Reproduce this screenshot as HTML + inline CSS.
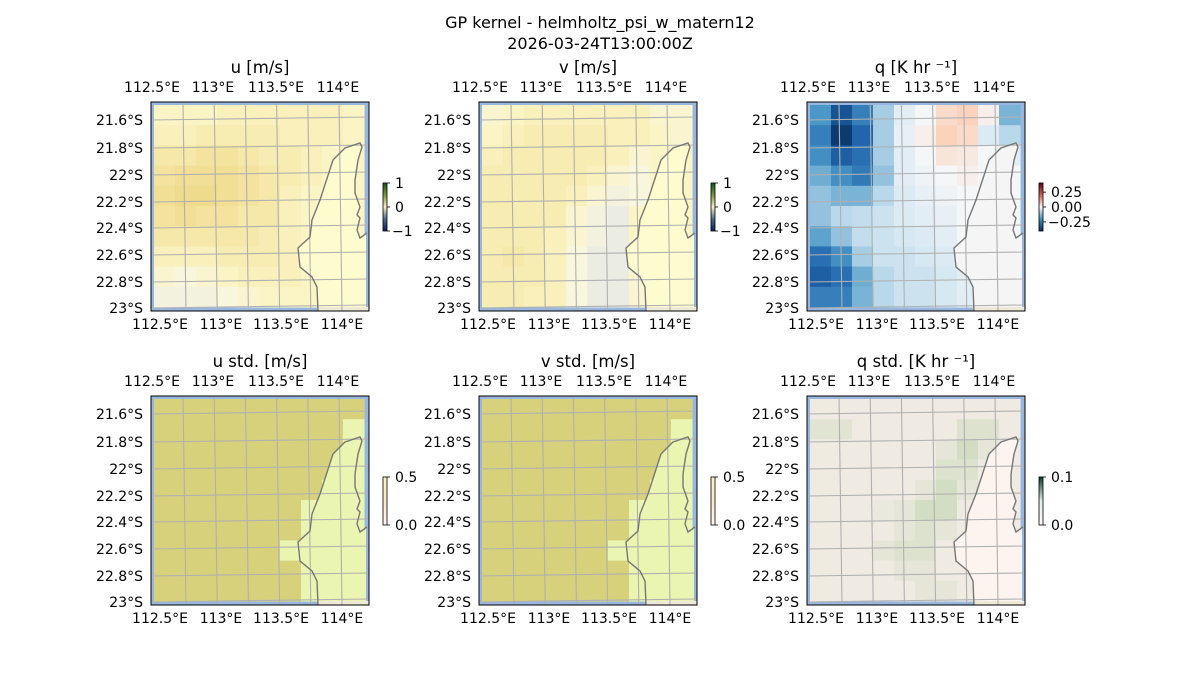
<!DOCTYPE html>
<html><head><meta charset="utf-8"><style>
body{margin:0;background:#fff;}
svg{display:block;font-family:"DejaVu Sans","Liberation Sans",sans-serif;}
</style></head><body>
<svg id="fig" width="1200" height="700" viewBox="0 0 1200 700">
<text x="600" y="28" font-size="16" text-anchor="middle">GP kernel - helmholtz_psi_w_matern12</text>
<text x="600" y="49" font-size="16" text-anchor="middle">2026-03-24T13:00:00Z</text>
</svg>
<script>
const uGrid=[
[.2,.2,.2,.3,.3,.3,.3,.3,.3,.2],[.3,.3,.4,.4,.4,.4,.3,.3,.3,.2],[.5,.5,.6,.6,.5,.4,.4,.3,.2,.2],
[.6,.7,.7,.7,.6,.5,.4,.3,.2,.2],[.7,.8,.8,.7,.6,.5,.3,.2,.2,.2],[.6,.7,.6,.6,.5,.5,.3,.2,.2,.2],
[.5,.5,.5,.5,.5,.4,.3,.2,.2,.2],[.3,.3,.3,.4,.4,.4,.3,.2,.2,.2],[.1,0,.1,.2,.3,.3,.3,.2,.2,.2],
[-.1,-.1,-.1,0,.1,.2,.2,.2,.2,.2]];
const vGrid=[
[.1,.2,.3,.3,.3,.3,.3,.3,.1,.1],[.2,.3,.4,.4,.4,.4,.3,.3,.2,.1],[.3,.4,.4,.4,.4,.4,.3,.1,.2,.2],
[.4,.4,.4,.4,.4,.3,.1,0,.2,.2],[.4,.4,.4,.4,.3,.1,-.1,0,.2,.2],[.4,.4,.4,.4,.1,-.1,-.2,.2,.2,.2],
[.4,.4,.4,.3,.1,-.1,-.2,.2,.2,.2],[.4,.5,.4,.3,0,-.2,-.2,.2,.2,.2],[.4,.4,.4,.3,0,-.2,-.2,.1,.2,.2],
[.4,.4,.3,.3,0,-.2,-.2,.1,.2,.2]];
const qGrid=[
[-.2,-.35,-.25,-.1,-.03,0,.08,.1,.02,-.15],[-.25,-.42,-.3,-.1,-.02,.02,.1,.08,-.04,-.08],
[-.22,-.32,-.28,-.1,-.03,0,.05,.04,0,-.03],[-.16,-.22,-.26,-.12,-.03,-.01,0,.02,0,0],
[-.12,-.15,-.15,-.08,-.04,-.02,-.01,0,0,0],[-.12,-.08,-.07,-.06,-.04,-.03,-.02,0,0,0],
[-.18,-.12,-.07,-.06,-.05,-.04,-.03,0,0,0],[-.28,-.22,-.1,-.06,-.06,-.05,-.04,0,0,0],
[-.32,-.28,-.16,-.08,-.06,-.06,-.05,-.03,0,0],[-.25,-.25,-.15,-.08,-.06,-.06,-.05,-.03,0,0]];
const uStdGrid=[
[.3,.3,.3,.3,.3,.3,.3,.3,.3,.3],[.3,.3,.3,.3,.3,.3,.3,.3,.3,.05],[.3,.3,.3,.3,.3,.3,.3,.3,.3,.05],
[.3,.3,.3,.3,.3,.3,.3,.3,.3,.05],[.3,.3,.3,.3,.3,.3,.3,.3,.05,.05],[.3,.3,.3,.3,.3,.3,.3,.05,.05,.05],
[.3,.3,.3,.3,.3,.3,.3,.05,.05,.05],[.3,.3,.3,.3,.3,.3,.05,.05,.05,.05],[.3,.3,.3,.3,.3,.3,.3,.05,.05,.05],
[.3,.3,.3,.3,.3,.3,.3,.05,.05,.05]];
const vStdGrid=uStdGrid.map(r=>r.slice());
const qStdGrid=[
[.02,.02,.02,.02,.02,.02,.02,.02,.02,.02],[.035,.035,.02,.02,.02,.02,.02,.04,.04,.02],
[.02,.02,.02,.02,.02,.02,.03,.05,.03,.02],[.02,.02,.02,.02,.02,.02,.04,.04,.02,.02],
[.02,.02,.02,.02,.02,.03,.05,.03,.02,.02],[.02,.02,.02,.025,.03,.05,.05,.02,.02,.02],
[.02,.02,.02,.02,.03,.04,.03,.02,.02,.02],[.02,.02,.02,.03,.04,.04,.02,.02,.02,.02],
[.02,.02,.02,.02,.03,.03,.02,.02,.02,.02],[.02,.02,.02,.02,.02,.03,.03,.02,.02,.02]];
const topTicks=["112.5°E","113°E","113.5°E","114°E"];
const botTicks=["112.5°E","113°E","113.5°E","114°E"];
const latTicks=["21.6°S","21.8°S","22°S","22.2°S","22.4°S","22.6°S","22.8°S","23°S"];
const titles=["u [m/s]","v [m/s]","q [K hr ⁻¹]","u std. [m/s]","v std. [m/s]","q std. [K hr ⁻¹]"];

const NS="http://www.w3.org/2000/svg";
const fig=document.getElementById('fig');
function mk(tag,attrs,parent){const e=document.createElementNS(NS,tag);for(const k in attrs)e.setAttribute(k,attrs[k]);(parent||fig).appendChild(e);return e;}
function hex(c){return [1,3,5].map(i=>parseInt(c.slice(i,i+2),16));}
function cmap(stops){return v=>{if(v<=stops[0][0])return stops[0][1];for(let i=1;i<stops.length;i++){if(v<=stops[i][0]){const[a,ca]=stops[i-1],[b,cb]=stops[i];const t=(v-a)/(b-a);const A=hex(ca),B=hex(cb);return 'rgb('+A.map((x,j)=>Math.round(x+(B[j]-x)*t)).join(',')+')';}}return stops[stops.length-1][1];};}
const uvMap=cmap([[-0.3,'#e2e8e0'],[-0.2,'#ecede2'],[0,'#f8f6dc'],[0.2,'#fbf4c4'],[0.8,'#efdb8c'],[1,'#e6d27c']]);
const qMap=cmap([[-0.45,'#053061'],[-0.3,'#2166ac'],[-0.2,'#4b98c8'],[-0.1,'#a6cde4'],[-0.05,'#d6e8f2'],[0,'#f5f6f7'],[0.1,'#fbd3bd'],[0.2,'#f4a582'],[0.3,'#d6604d'],[0.4,'#b2182b']]);
const stdMap=cmap([[0.05,'#e9f5b1'],[0.3,'#d8d17c']]);
const qStdMap=cmap([[0.02,'#efebe3'],[0.05,'#d3ddc3']]);
const panels=[
{x:151,y:102,g:uGrid,m:uvMap,land:'#fefbcf',cb:'uv'},
{x:479,y:102,g:vGrid,m:uvMap,land:'#fefbcf',cb:'uv'},
{x:807,y:102,g:qGrid,m:qMap,land:'#f5f5f5',cb:'q'},
{x:151,y:396,g:uStdGrid,m:stdMap,land:'#e9f5b0',cb:'std'},
{x:479,y:396,g:vStdGrid,m:stdMap,land:'#e9f5b0',cb:'std'},
{x:807,y:396,g:qStdGrid,m:qStdMap,land:'#fdf4f0',cb:'qstd'}];
const W=218,H=209;
const coast=[[167,209],[166,185],[161,175],[149,165],[147,146],[159,135],[161,118],[169,98],[182,58],[194,46],[209,41],[211,45],[207,58],[204,78],[204,91],[209,105],[206,113],[209,116],[206,128],[209,136],[216,131]];
const cbDefs={
 uv:{stops:['#14501e','#7a9a3a','#f5efc0','#4a6a8a','#0a1e5a'],labels:[['1',0],['0',0.5],['−1',1]]},
 q:{stops:['#67001f','#d6604d','#f7f7f7','#4393c3','#053061'],labels:[['0.25',0.19],['0.00',0.5],['−0.25',0.81]]},
 std:{stops:['#f9f3c0','#fde9c8','#fff8f0'],labels:[['0.5',0],['0.0',1]]},
 qstd:{stops:['#0a3d2a','#e0f0e8','#fff8f8'],labels:[['0.1',0],['0.0',1]]}};
panels.forEach((p,pi)=>{
 const g=mk('g',{transform:`translate(${p.x},${p.y})`});
 
 
 mk('rect',{x:0,y:0,width:W,height:H,fill:'#97b6e0'},g);
 const rows=p.g.length,cols=p.g[0].length;
 const x0=3,y0=3,iw=W-8,ih=H-7;
 p.g.forEach((row,r)=>row.forEach((v,c)=>{
  const cell=mk('rect',{x:(x0+c*iw/cols).toFixed(2),y:(y0+r*ih/rows).toFixed(2),width:(iw/cols+0.6).toFixed(2),height:(ih/rows+0.6).toFixed(2),fill:p.m(v)},g);
  
  
 }));
 const landPts=coast.map(q=>q.join(',')).join(' ')+` ${W-3},131 ${W-3},${H-4} 167,${H-4}`;
 const land=mk('polygon',{points:landPts,fill:p.land},g);
 
 
 mk('rect',{x:167,y:H-4,width:W-167,height:4,fill:'#ece9d6'},g);
 for(let i=0;i<7;i++){const xt=32+i*31.2-31.2,xb=xt+3;if(xt<1)continue;
  mk('line',{x1:xt,y1:0,x2:xb,y2:H,stroke:'#b0b0b0','stroke-width':1.1},g);}
 [18,46,73,100,126,153,180,206].forEach(y=>mk('line',{x1:0,y1:y,x2:W,y2:y-3,stroke:'#b0b0b0','stroke-width':1.1},g));
 const cl=mk('polyline',{points:coast.map(q=>q.join(',')).join(' '),fill:'none',stroke:'#777','stroke-width':1.4},g);
 
 
 mk('rect',{x:0,y:0,width:W,height:H,fill:'none',stroke:'#000','stroke-width':1},g);
 const t=mk('text',{x:W/2,y:-29,'font-size':16.5,'text-anchor':'middle'},g);t.textContent=titles[pi];
 
 
 const topX=[1,62,125,187],botX=[9,70,130,191];
 topTicks.forEach((s,i)=>{const e=mk('text',{x:topX[i],y:-10,'font-size':14,'text-anchor':'middle'},g);e.textContent=s;
  
  });
 botTicks.forEach((s,i)=>{const e=mk('text',{x:botX[i],y:H+18,'font-size':14,'text-anchor':'middle'},g);e.textContent=s;
  
  });
 const latY=[18,46,73,100,126,153,180,206];
 latTicks.forEach((s,i)=>{const e=mk('text',{x:-8,y:latY[i]+5,'font-size':14,'text-anchor':'end'},g);e.textContent=s;
  
  });
 const d=cbDefs[p.cb];const gid='cb'+pi;
 const defs=mk('defs',{},g);const lg=mk('linearGradient',{id:gid,x1:0,y1:0,x2:0,y2:1},defs);
 d.stops.forEach((c,i)=>mk('stop',{offset:i/(d.stops.length-1),'stop-color':c},lg));
 const cbx=W+14,cby=81,cbh=48;
 const cb=mk('rect',{x:cbx,y:cby,width:4,height:cbh,fill:`url(#${gid})`,stroke:'#000','stroke-width':0.8},g);
 
 
 d.labels.forEach(([s,f])=>{const yy=cby+f*cbh;
  mk('line',{x1:cbx+4,y1:yy,x2:cbx+7,y2:yy,stroke:'#000','stroke-width':0.8},g);
  const e=mk('text',{x:cbx+(s[0]==='−'?9:12),y:yy+5,'font-size':14},g);e.textContent=s;
  
  });
});
</script>
</body></html>
